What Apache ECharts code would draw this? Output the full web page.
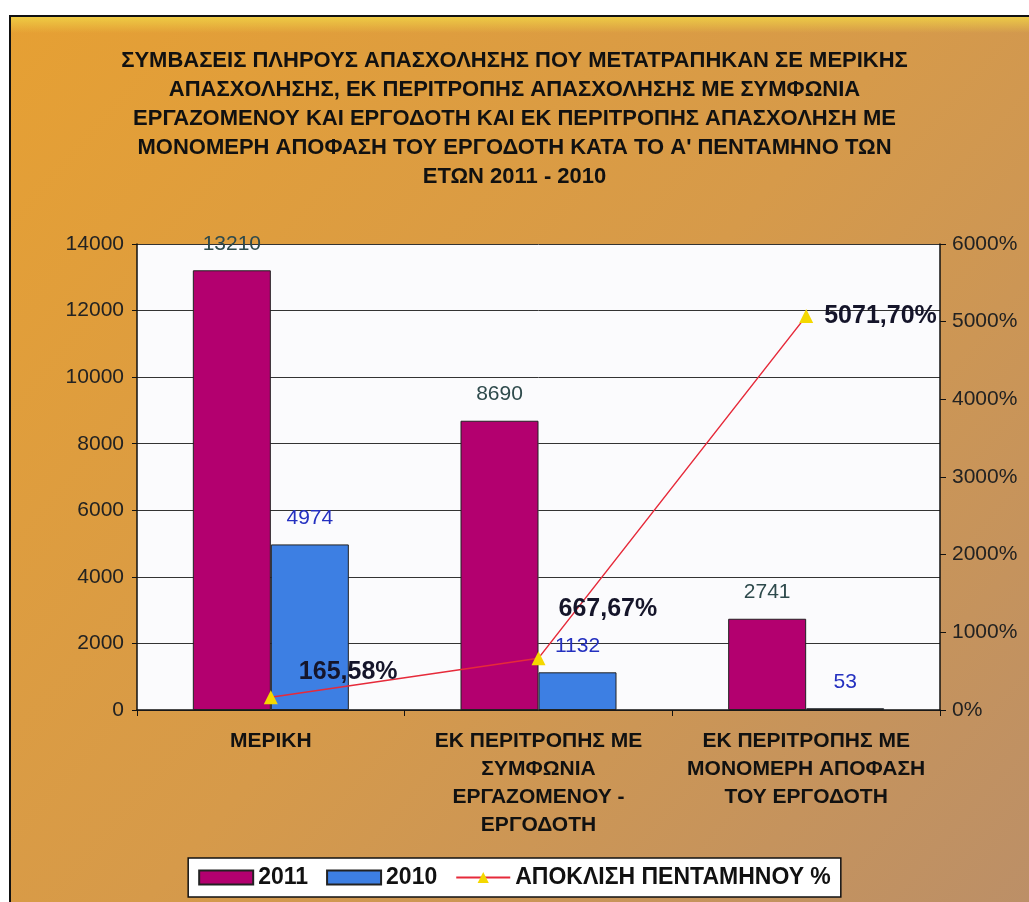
<!DOCTYPE html>
<html>
<head>
<meta charset="utf-8">
<script src="https://cdn.jsdelivr.net/npm/echarts@6/dist/echarts.min.js"></script>
<style>
html,body{margin:0;padding:0;background:#fff;}
#chart{width:1029px;height:902px;}
</style>
</head>
<body>
<div id="chart"></div>
<script>
const titleText = 'ΣΥΜΒΑΣΕΙΣ ΠΛΗΡΟΥΣ ΑΠΑΣΧΟΛΗΣΗΣ ΠΟΥ ΜΕΤΑΤΡΑΠΗΚΑΝ ΣΕ ΜΕΡΙΚΗΣ\nΑΠΑΣΧΟΛΗΣΗΣ, ΕΚ ΠΕΡΙΤΡΟΠΗΣ ΑΠΑΣΧΟΛΗΣΗΣ ΜΕ ΣΥΜΦΩΝΙΑ\nΕΡΓΑΖΟΜΕΝΟΥ ΚΑΙ ΕΡΓΟΔΟΤΗ ΚΑΙ ΕΚ ΠΕΡΙΤΡΟΠΗΣ ΑΠΑΣΧΟΛΗΣΗ ΜΕ\nΜΟΝΟΜΕΡΗ ΑΠΟΦΑΣΗ ΤΟΥ ΕΡΓΟΔΟΤΗ ΚΑΤΑ ΤΟ Α\' ΠΕΝΤΑΜΗΝΟ ΤΩΝ\nΕΤΩΝ 2011 - 2010';
const categories = [
  'ΜΕΡΙΚΗ',
  'ΕΚ ΠΕΡΙΤΡΟΠΗΣ ΜΕ\nΣΥΜΦΩΝΙΑ\nΕΡΓΑΖΟΜΕΝΟΥ -\nΕΡΓΟΔΟΤΗ',
  'ΕΚ ΠΕΡΙΤΡΟΠΗΣ ΜΕ\nΜΟΝΟΜΕΡΗ ΑΠΟΦΑΣΗ\nΤΟΥ ΕΡΓΟΔΟΤΗ'
];
const seriesNames = ['2011', '2010', 'ΑΠΟΚΛΙΣΗ ΠΕΝΤΑΜΗΝΟΥ %'];
const values2011 = [13210, 8690, 2741];
const values2010 = [4974, 1132, 53];
const deviationPct = [165.58, 667.67, 5071.70];
const leftTicks = {min: 0, max: 14000, interval: 2000};
const rightTicks = {min: 0, max: 6000, interval: 1000};

const FONT = '"Liberation Sans", Arial, sans-serif';
const lineLabelOffsets = [[16, -25], [8, -49], [6, 0]];

const chart = echarts.init(document.getElementById('chart'), null, {renderer: 'canvas'});
chart.setOption({
  backgroundColor: '#ffffff',
  animation: false,
  textStyle: {fontFamily: FONT},
  graphic: [
    {
      type: 'rect', z: -10, silent: true,
      shape: {x: 10, y: 16, width: 1030, height: 900},
      style: {
        fill: new echarts.graphic.LinearGradient(0, 0, 1, 1, [
          {offset: 0, color: '#e6a033'},
          {offset: 0.5, color: '#d69a4a'},
          {offset: 1, color: '#bb8f68'}
        ]),
        stroke: '#111', lineWidth: 2
      }
    },
    {
      type: 'rect', z: -9, silent: true,
      shape: {x: 11, y: 17, width: 1020, height: 16},
      style: {
        fill: new echarts.graphic.LinearGradient(0, 0, 0, 1, [
          {offset: 0, color: 'rgba(240,210,70,0.85)'},
          {offset: 1, color: 'rgba(240,210,70,0)'}
        ])
      }
    }
  ],
  title: {
    text: titleText,
    left: 'center',
    top: 41,
    textStyle: {fontFamily: FONT, fontSize: 22, fontWeight: 'bold', color: '#111', lineHeight: 29}
  },
  legend: {
    data: [
      {name: seriesNames[0], icon: 'rect'},
      {name: seriesNames[1], icon: 'rect'},
      {name: seriesNames[2]}
    ],
    left: 'center',
    bottom: 5,
    backgroundColor: '#ffffff',
    borderColor: '#111',
    borderWidth: 1.5,
    borderRadius: 0,
    padding: [8, 10],
    itemWidth: 54,
    itemHeight: 14,
    itemGap: 18,
    textStyle: {fontFamily: FONT, fontSize: 23, fontWeight: 'bold', color: '#111'}
  },
  grid: {
    left: 137, right: 89, top: 244, bottom: 192,
    show: true, backgroundColor: '#fbfbfd', borderWidth: 0
  },
  xAxis: {
    type: 'category',
    data: categories,
    axisLine: {lineStyle: {color: '#111', width: 1.5}},
    axisTick: {show: true, length: 6, lineStyle: {color: '#111'}},
    axisLabel: {
      interval: 0, margin: 17,
      fontFamily: FONT, fontSize: 21, fontWeight: 'bold', color: '#111', lineHeight: 28
    }
  },
  yAxis: [
    {
      type: 'value',
      min: leftTicks.min, max: leftTicks.max, interval: leftTicks.interval,
      axisLine: {show: true, lineStyle: {color: '#111', width: 1.5}},
      axisTick: {show: true, length: 5, lineStyle: {color: '#111'}},
      axisLabel: {margin: 13, fontFamily: FONT, fontSize: 21, color: '#222', formatter: v => String(v)},
      splitLine: {show: true, lineStyle: {color: '#333', width: 1}}
    },
    {
      type: 'value',
      min: rightTicks.min, max: rightTicks.max, interval: rightTicks.interval,
      axisLine: {show: true, lineStyle: {color: '#111', width: 1.5}},
      axisTick: {show: true, length: 6, lineStyle: {color: '#111'}},
      axisLabel: {margin: 12, fontFamily: FONT, fontSize: 21, color: '#222', formatter: v => v + '%'},
      splitLine: {show: false}
    }
  ],
  series: [
    {
      name: seriesNames[0],
      type: 'bar',
      data: values2011,
      barWidth: 78,
      barGap: '0%',
      itemStyle: {color: '#b3006f', borderColor: '#222', borderWidth: 1},
      label: {show: true, position: 'top', distance: 16, fontFamily: FONT, fontSize: 21, color: '#2e4a4c'}
    },
    {
      name: seriesNames[1],
      type: 'bar',
      data: values2010,
      barWidth: 78,
      barGap: '0%',
      itemStyle: {color: '#3d7fe3', borderColor: '#222', borderWidth: 1},
      label: {show: true, position: 'top', distance: 16, fontFamily: FONT, fontSize: 21, color: '#2430c0'}
    },
    {
      name: seriesNames[2],
      type: 'line',
      yAxisIndex: 1,
      data: deviationPct.map((v, i) => ({
        value: v,
        label: {offset: lineLabelOffsets[i]}
      })),
      z: 5,
      symbol: 'triangle',
      symbolSize: 14,
      lineStyle: {color: '#e62a3a', width: 1.5},
      itemStyle: {color: '#f4d800'},
      label: {
        show: true, position: 'right', distance: 5,
        fontFamily: FONT, fontSize: 25, fontWeight: 'bold', color: '#15152a',
        formatter: p => p.value.toFixed(2).replace('.', ',') + '%'
      }
    }
  ]
});
</script>
</body>
</html>
